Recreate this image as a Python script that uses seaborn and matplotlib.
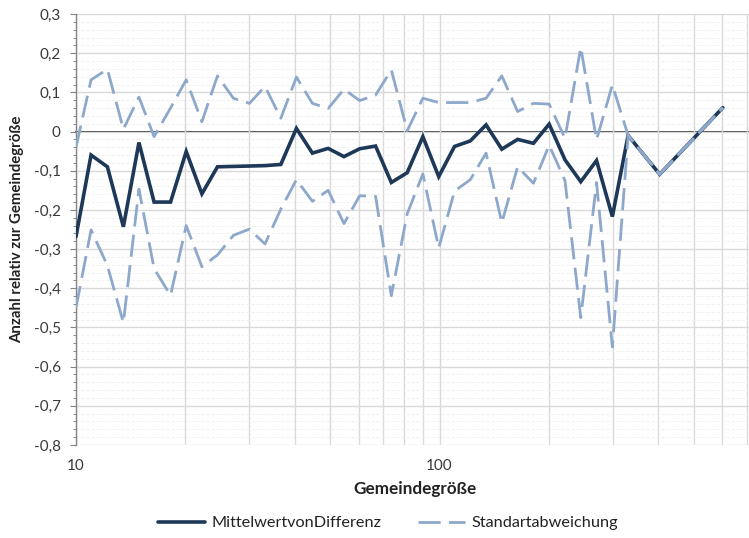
import numpy as np
import pandas as pd
import matplotlib
matplotlib.use("Agg")
import matplotlib.pyplot as plt
from matplotlib.ticker import LogLocator, NullFormatter, MultipleLocator, FixedLocator, FixedFormatter
import seaborn as sns

# Gemeindegröße (log scale) and the three series
gemeindegroesse = [10.0, 11.0, 12.2, 13.5, 14.9, 16.4, 18.2, 20.1, 22.2, 24.5,
                   27.1, 30.0, 33.1, 36.6, 40.4, 44.7, 49.4, 54.6, 60.3, 66.7,
                   73.7, 81.5, 90.0, 99.5, 110.0, 121.5, 134.3, 148.4, 164.0, 181.3,
                   200.3, 221.4, 244.7, 270.4, 298.9, 330.3, 403.4, 601.8]

mittelwert = [-0.268, -0.060, -0.090, -0.243, -0.028, -0.180, -0.180, -0.051, -0.159, -0.090,
              -0.089, -0.088, -0.087, -0.084, 0.008, -0.055, -0.043, -0.064, -0.044, -0.037,
              -0.130, -0.105, -0.013, -0.115, -0.038, -0.024, 0.017, -0.045, -0.020, -0.030,
              0.019, -0.072, -0.128, -0.074, -0.217, -0.010, -0.109, 0.061]

std_oben = [-0.040, 0.132, 0.159, 0.006, 0.088, -0.013, 0.060, 0.132, 0.025, 0.142,
            0.085, 0.072, 0.115, 0.034, 0.139, 0.072, 0.059, 0.108, 0.079, 0.093,
            0.157, 0.002, 0.085, 0.074, 0.074, 0.074, 0.085, 0.142, 0.051, 0.072,
            0.070, -0.017, 0.215, -0.021, 0.119, -0.010, -0.109, 0.061]

std_unten = [-0.450, -0.251, -0.342, -0.488, -0.147, -0.350, -0.418, -0.240, -0.345, -0.315,
             -0.265, -0.249, -0.287, -0.198, -0.123, -0.178, -0.150, -0.235, -0.164, -0.165,
             -0.419, -0.210, -0.108, -0.297, -0.152, -0.123, -0.055, -0.233, -0.090, -0.132,
             -0.035, -0.125, -0.475, -0.130, -0.550, -0.010, -0.109, 0.061]

y_ticks = [0.3, 0.2, 0.1, 0.0, -0.1, -0.2, -0.3, -0.4, -0.5, -0.6, -0.7, -0.8]
y_tick_labels = ["0,3", "0,2", "0,1", "0", "-0,1", "-0,2", "-0,3", "-0,4", "-0,5", "-0,6", "-0,7", "-0,8"]
x_ticks = [10, 100]
x_tick_labels = ["10", "100"]

legend_labels = ["MittelwertvonDifferenz", "Standartabweichung"]

df = pd.DataFrame({"x": gemeindegroesse, "mw": mittelwert,
                   "oben": std_oben, "unten": std_unten})

sns.set_theme(style="white")
plt.rcParams["font.family"] = ["Lato", "DejaVu Sans"]

DARK = "#1E3857"
LIGHT = "#8DA8CB"
AXIS = "#868686"
GRID = "#D9D9D9"
TXT = "#3A3A3A"

fig = plt.figure(figsize=(7.49, 5.38), dpi=100)
# plot area runs past the right edge of the canvas (axis ends at 1000)
ax = fig.add_axes([76 / 749, 93 / 538, 727 / 749, 431 / 538])
ax.set_xscale("log")
ax.set_xlim(10, 1000)
ax.set_ylim(-0.8, 0.3)

dash = (0, (8, 3))
sns.lineplot(data=df, x="x", y="mw", ax=ax, color=DARK, lw=2.6, sort=False,
             errorbar=None, zorder=3, solid_joinstyle="miter")
sns.lineplot(data=df, x="x", y="oben", ax=ax, color=LIGHT, lw=2.0, sort=False,
             errorbar=None, linestyle=dash, zorder=4)
sns.lineplot(data=df, x="x", y="unten", ax=ax, color=LIGHT, lw=2.0, sort=False,
             errorbar=None, linestyle=dash, zorder=4)

# grid
ax.xaxis.set_major_locator(FixedLocator(x_ticks))
ax.xaxis.set_major_formatter(FixedFormatter(x_tick_labels))
ax.xaxis.set_minor_locator(LogLocator(base=10, subs=range(2, 10)))
ax.xaxis.set_minor_formatter(NullFormatter())
ax.yaxis.set_major_locator(FixedLocator(y_ticks))
ax.yaxis.set_major_formatter(FixedFormatter(y_tick_labels))
ax.yaxis.set_minor_locator(MultipleLocator(0.02))
ax.grid(which="major", axis="both", color=GRID, lw=1.0, zorder=0)
ax.grid(which="minor", axis="x", color=GRID, lw=1.0, zorder=0)
ax.grid(which="minor", axis="y", color="#EFEFEF", lw=0.6, linestyle=(0, (4, 2)), zorder=0)
ax.set_axisbelow(True)

for side in ["top", "right", "bottom"]:
    ax.spines[side].set_visible(False)
ax.spines["left"].set_color(AXIS)
ax.spines["left"].set_linewidth(1.0)

ax.tick_params(axis="x", which="both", length=0, pad=10, labelsize=11, labelcolor=TXT)
ax.tick_params(axis="y", which="major", direction="out", length=4, width=0.8,
               color=AXIS, pad=7, labelsize=11, labelcolor=TXT, left=True)
ax.tick_params(axis="y", which="minor", direction="out", length=2.5, width=0.7,
               color=AXIS, left=True)

# horizontal axis line crossing at 0 with tick marks
sec = ax.secondary_xaxis(location=0.8 / 1.1)
sec.xaxis.set_major_locator(FixedLocator([10, 100, 1000]))
sec.xaxis.set_minor_locator(LogLocator(base=10, subs=range(2, 10)))
sec.xaxis.set_major_formatter(NullFormatter())
sec.xaxis.set_minor_formatter(NullFormatter())
sec.spines["bottom"].set_color(AXIS)
sec.spines["bottom"].set_linewidth(1.2)
sec.tick_params(which="both", direction="out", length=4, width=0.8, color=AXIS)

ax.set_xlabel("Gemeindegröße", fontsize=12.3, fontweight="bold", color="#222222")
ax.xaxis.set_label_coords((415 - 76) / 727, -0.083)
ax.set_ylabel("Anzahl relativ zur Gemeindegröße", fontsize=10.8, fontweight="bold", color="#222222")
ax.yaxis.set_label_coords(-0.072, 0.5)

lines = ax.get_lines()
fig.legend([lines[0], lines[1]], legend_labels, loc="center", ncol=2,
           bbox_to_anchor=(388 / 749, 1 - 523 / 538), frameon=False,
           fontsize=11.7, handlelength=2.9, handletextpad=0.4, columnspacing=2.2,
           labelcolor="#222222")

fig.savefig("out.png", dpi=100)
